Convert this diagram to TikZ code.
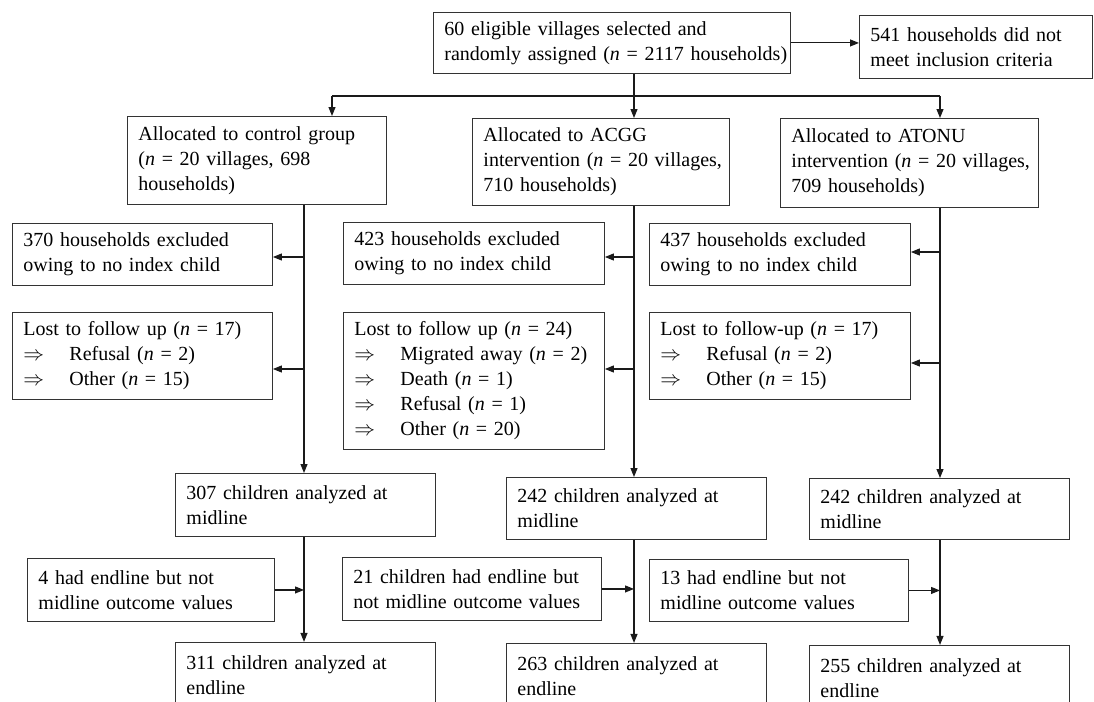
\documentclass[tikz,border=0pt]{standalone}
\usepackage{fontspec}
\setmainfont{Liberation Serif}
\usetikzlibrary{positioning,arrows.meta}
\definecolor{boxline}{HTML}{333333}
\definecolor{linkline}{HTML}{1A1A1A}
\newcommand{\lostitem}{\makebox[46pt][l]{$\Rightarrow$}}

\begin{document}
\begin{tikzpicture}[
  x=1pt, y=-1pt,
  flowbox/.style={
    rectangle, draw=boxline, line width=0.9pt,
    anchor=north west, align=left,
    inner xsep=11pt, inner ysep=2pt,
    font=\fontsize{20}{25}\selectfont,
  },
  link/.style={
    draw=linkline, line width=1.1pt,
    -{Triangle[length=9pt,width=7pt]},
  },
]
\useasboundingbox (0,0) rectangle (1094,701);
\clip (0,0) rectangle (1094,701);

% enrolment
\node[flowbox, text width=335pt, minimum height=61pt] (villages) at (433,12) {
  60 eligible villages selected and\\
  \mbox{randomly assigned (\textit{n} = 2117 households)}
};
\node[flowbox, text width=211pt, minimum height=63pt] (notmet) at (859,15) {
  541 households did not\\
  meet inclusion criteria
};

% allocation
\node[flowbox, text width=237pt, minimum height=88pt] (ctrl) at (127,116) {
  Allocated to control group\\
  (\textit{n} = 20 villages, 698\\
  households)
};
\node[flowbox, text width=235pt, minimum height=87pt] (acgg) at (472,118) {
  Allocated to ACGG\\
  \mbox{intervention (\textit{n} = 20 villages,}\\
  710 households)
};
\node[flowbox, text width=236pt, minimum height=89pt] (atonu) at (780,118) {
  Allocated to ATONU\\
  \mbox{intervention (\textit{n} = 20 villages,}\\
  709 households)
};

% exclusions
\node[flowbox, text width=238pt, minimum height=62pt] (excl1) at (12,223) {
  370 households excluded\\
  owing to no index child
};
\node[flowbox, text width=239pt, minimum height=62pt] (excl2) at (343,222) {
  423 households excluded\\
  owing to no index child
};
\node[flowbox, text width=239pt, minimum height=62pt] (excl3) at (649,223) {
  437 households excluded\\
  owing to no index child
};

\node[flowbox, text width=238pt, minimum height=87pt, below=26pt of excl1] (lost1) {
  Lost to follow up (\textit{n} = 17)\\
  \lostitem Refusal (\textit{n} = 2)\\
  \lostitem Other (\textit{n} = 15)
};
\node[flowbox, text width=239pt, minimum height=137pt, below=27pt of excl2] (lost2) {
  Lost to follow up (\textit{n} = 24)\\
  \lostitem Migrated away (\textit{n} = 2)\\
  \lostitem Death (\textit{n} = 1)\\
  \lostitem Refusal (\textit{n} = 1)\\
  \lostitem Other (\textit{n} = 20)
};
\node[flowbox, text width=239pt, minimum height=87pt, below=26pt of excl3] (lost3) {
  Lost to follow-up (\textit{n} = 17)\\
  \lostitem Refusal (\textit{n} = 2)\\
  \lostitem Other (\textit{n} = 15)
};

% midline
\node[flowbox, text width=238pt, minimum height=63pt] (mid1) at (175,473) {
  307 children analyzed at\\
  midline
};
\node[flowbox, text width=238pt, minimum height=62pt] (mid2) at (506,477) {
  242 children analyzed at\\
  midline
};
\node[flowbox, text width=238pt, minimum height=61pt] (mid3) at (809,478) {
  242 children analyzed at\\
  midline
};

% endline only
\node[flowbox, text width=225pt, minimum height=63pt] (late1) at (27,558) {
  4 had endline but not\\
  midline outcome values
};
\node[flowbox, text width=237pt, minimum height=63pt] (late2) at (342,557) {
  21 children had endline but\\
  not midline outcome values
};
\node[flowbox, text width=237pt, minimum height=62pt] (late3) at (649,559) {
  13 had endline but not\\
  midline outcome values
};

% endline
\node[flowbox, text width=238pt, minimum height=66pt, below=105pt of mid1] (end1) {
  311 children analyzed at\\
  endline
};
\node[flowbox, text width=238pt, minimum height=66pt, below=103pt of mid2] (end2) {
  263 children analyzed at\\
  endline
};
\node[flowbox, text width=238pt, minimum height=66pt, below=105pt of mid3] (end3) {
  255 children analyzed at\\
  endline
};

% split into arms
\coordinate (fork) at (634,96);
\coordinate (forkL) at (332,96);
\coordinate (forkR) at (940,96);
\draw[link] (villages.east) -- (villages.east -| notmet.west);
\draw[link, -] (forkL) -- (forkR);
\draw[link] (fork |- villages.south) -- (fork |- acgg.north);
\draw[link] (forkL) -- (forkL |- ctrl.north);
\draw[link] (forkR) -- (forkR |- atonu.north);

% arm stems
\coordinate (s1) at (304,0);
\coordinate (s2) at (634,0);
\coordinate (s3) at (940,0);
\draw[link] (s1 |- ctrl.south) -- (s1 |- mid1.north);
\draw[link] (s2 |- acgg.south) -- (s2 |- mid2.north);
\draw[link] (s3 |- atonu.south) -- (s3 |- mid3.north);
\draw[link] (s1 |- mid1.south) -- (s1 |- end1.north);
\draw[link] (s2 |- mid2.south) -- (s2 |- end2.north);
\draw[link] (s3 |- mid3.south) -- (s3 |- end3.north);

% side exits
\coordinate (j1a) at (304,257);
\coordinate (j1b) at (304,369);
\coordinate (j2a) at (634,257);
\coordinate (j2b) at (634,369);
\coordinate (j3a) at (940,252);
\coordinate (j3b) at (940,363);
\draw[link] (j1a) -- (j1a -| excl1.east);
\draw[link] (j1b) -- (j1b -| lost1.east);
\draw[link] (j2a) -- (j2a -| excl2.east);
\draw[link] (j2b) -- (j2b -| lost2.east);
\draw[link] (j3a) -- (j3a -| excl3.east);
\draw[link] (j3b) -- (j3b -| lost3.east);

% side entries
\draw[link] (late1.east) -- (late1.east -| s1);
\draw[link] (late2.east) -- (late2.east -| s2);
\draw[link] (late3.east) -- (late3.east -| s3);

\end{tikzpicture}
\end{document}
